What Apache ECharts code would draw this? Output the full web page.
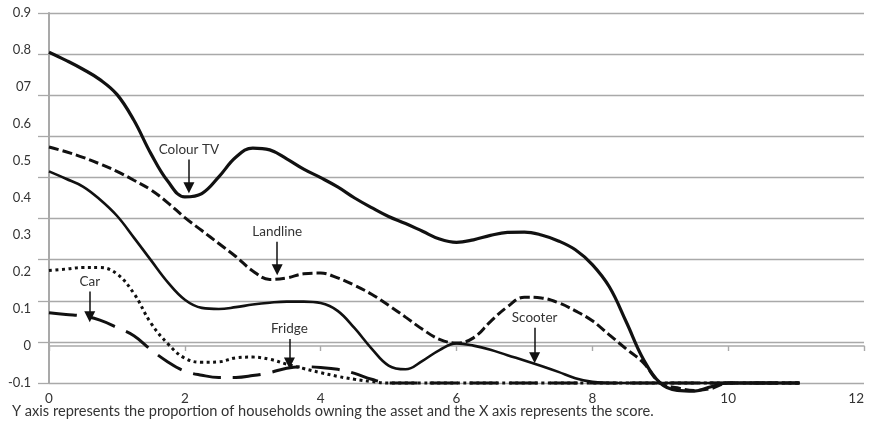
<!DOCTYPE html>
<html><head><meta charset="utf-8">
<script src="https://cdn.jsdelivr.net/npm/echarts@6/dist/echarts.min.js"></script>
<style>html,body{margin:0;padding:0;background:#fff}#c{width:874px;height:423px}</style>
</head><body><div id="c"></div>
<script>
// ---- tick labels ----
const yTickLabels = ['-0.1', '0', '0.1', '0.2', '0.3', '0.4', '0.5', '0.6', '07', '0.8', '0.9'];
const caption = 'Y axis represents the proportion of households owning the asset and the X axis represents the score.';

// ---- score values (x) ----
const scores = [0, 0.25, 0.5, 0.75, 1, 1.25, 1.5, 1.75, 2, 2.25, 2.5, 2.75, 3, 3.25, 3.5, 3.75, 4, 4.25, 4.5, 4.75,
  5, 5.25, 5.5, 5.75, 6, 6.25, 6.5, 6.75, 7, 7.25, 7.5, 7.75, 8, 8.25, 8.5, 8.75, 9, 9.25, 9.5, 9.75, 10, 10.5, 11.05];

// ---- proportion of households owning each asset (y), one value per score ----
const colourTv = [0.794, 0.772, 0.748, 0.72, 0.68, 0.61, 0.52, 0.445, 0.403, 0.412, 0.457, 0.51, 0.535, 0.53, 0.506, 0.478, 0.455, 0.43, 0.4, 0.374,
  0.35, 0.331, 0.31, 0.289, 0.28, 0.287, 0.299, 0.307, 0.308, 0.3, 0.284, 0.26, 0.22, 0.16, 0.065, -0.035, -0.1, -0.12, -0.122, -0.11, -0.1, -0.1, -0.1];
const landline = [0.538, 0.525, 0.51, 0.492, 0.472, 0.448, 0.422, 0.387, 0.347, 0.312, 0.277, 0.242, 0.203, 0.18, 0.184, 0.195, 0.197, 0.184, 0.164, 0.14,
  0.11, 0.078, 0.045, 0.018, 0.008, 0.022, 0.066, 0.106, 0.132, 0.13, 0.117, 0.095, 0.068, 0.03, -0.008, -0.045, -0.1, -0.113, -0.12, -0.115, -0.1, -0.1, -0.1];
const scooter = [0.472, 0.452, 0.431, 0.396, 0.352, 0.293, 0.232, 0.172, 0.125, 0.103, 0.1, 0.105, 0.112, 0.117, 0.12, 0.12, 0.116, 0.095, 0.048, -0.007,
  -0.053, -0.063, -0.04, -0.011, 0.007, 0.001, -0.01, -0.025, -0.039, -0.054, -0.07, -0.087, -0.097, -0.1, -0.1, -0.1, -0.1, -0.1, -0.1, -0.1, -0.1, -0.1, -0.1];
const fridge = [0.204, 0.208, 0.212, 0.212, 0.195, 0.142, 0.062, 0.006, -0.033, -0.044, -0.043, -0.032, -0.03, -0.036, -0.049, -0.061, -0.072, -0.082, -0.09, -0.096,
  -0.1, -0.1, -0.1, -0.1, -0.1, -0.1, -0.1, -0.1, -0.1, -0.1, -0.1, -0.1, -0.1, -0.1, -0.1, -0.1, -0.1, -0.1, -0.1, -0.1, -0.1, -0.1, -0.1];
const car = [0.09, 0.085, 0.081, 0.07, 0.05, 0.028, -0.01, -0.043, -0.068, -0.079, -0.085, -0.085, -0.08, -0.072, -0.06, -0.056, -0.058, -0.063, -0.074, -0.09,
  -0.1, -0.1, -0.1, -0.1, -0.1, -0.1, -0.1, -0.1, -0.1, -0.1, -0.1, -0.1, -0.1, -0.1, -0.1, -0.1, -0.1, -0.1, -0.1, -0.1, -0.1, -0.1, -0.1];

// ---- annotation arrows (data coordinates) ----
const annotNames = ['Colour TV', 'Landline', 'Car', 'Fridge', 'Scooter'];
const annotX = [2.06, 3.36, 0.6, 3.54, 7.15];
const annotFrom = [0.504, 0.282, 0.147, 0.019, 0.049];
const annotTo = [0.428, 0.206, 0.079, -0.046, -0.032];

const FONT = 'Lato';
const TXT = '#333';
const GRID = '#a9a9a9';
const INK = '#111';

function zip(xs, ys) { return xs.map((x, i) => [x, ys[i]]); }

function arrowFor(name) {
  const i = annotNames.indexOf(name);
  return {
    silent: true,
    symbol: ['none', 'triangle'],
    symbolSize: 11,
    lineStyle: { type: 'solid', width: 1.5, color: INK },
    itemStyle: { color: INK },
    label: {
      show: true, position: 'start', formatter: '{b}', distance: 3,
      fontFamily: FONT, fontSize: 13.5, color: TXT
    },
    emphasis: { disabled: true },
    data: [[{ coord: [annotX[i], annotFrom[i]], name: name }, { coord: [annotX[i], annotTo[i]] }]]
  };
}

function mkSeries(name, ys, lineStyle) {
  return {
    name: name, type: 'line', yAxisIndex: 0, data: zip(scores, ys),
    smooth: 0.4, showSymbol: false, symbol: 'none', clip: false,
    lineStyle: Object.assign({ color: INK }, lineStyle),
    markLine: arrowFor(name), z: 3
  };
}

const chart = echarts.init(document.getElementById('c'), null, { renderer: 'canvas' });
chart.setOption({
  animation: false,
  backgroundColor: '#fff',
  title: {
    text: caption, left: 12, top: 404, padding: 0,
    textStyle: { fontFamily: FONT, fontSize: 14.6, fontWeight: 'normal', color: TXT }
  },
  grid: { left: 49, right: 10, top: 13, bottom: 40, containLabel: false, outerBoundsMode: 'none' },
  xAxis: {
    type: 'value', min: 0, max: 12, interval: 2,
    axisLine: { show: true, lineStyle: { color: GRID, width: 1.6 } },
    axisTick: { show: true, length: 5, lineStyle: { color: GRID, width: 1.4 } },
    splitLine: { show: false },
    axisLabel: { fontFamily: FONT, fontSize: 13.5, color: TXT, margin: 9, alignMaxLabel: 'right' }
  },
  yAxis: [
    {
      type: 'value', min: -0.1, max: 0.9, interval: 0.1, position: 'left',
      axisLine: { show: true, onZero: false, lineStyle: { color: GRID, width: 2 } },
      axisTick: { show: false },
      splitLine: { show: false },
      axisLabel: {
        fontFamily: FONT, fontSize: 13, color: TXT, margin: 18,
        formatter: (v, i) => yTickLabels[i]
      }
    },
    {
      type: 'value', min: 0, max: 9, interval: 1, position: 'left',
      axisLine: { show: false },
      axisTick: { show: true, length: 11, lineStyle: { color: GRID, width: 1.3 } },
      axisLabel: { show: false },
      splitLine: { show: true, lineStyle: { color: GRID, width: 1.3 } }
    }
  ],
  series: [
    mkSeries('Colour TV', colourTv, { width: 3.2, type: 'solid' }),
    mkSeries('Landline', landline, { width: 3, type: [10, 4] }),
    mkSeries('Scooter', scooter, { width: 2.6, type: 'solid' }),
    mkSeries('Fridge', fridge, { width: 3, type: [3, 3.5] }),
    mkSeries('Car', car, { width: 3, type: [28, 12] })
  ]
});
</script>
</body></html>
